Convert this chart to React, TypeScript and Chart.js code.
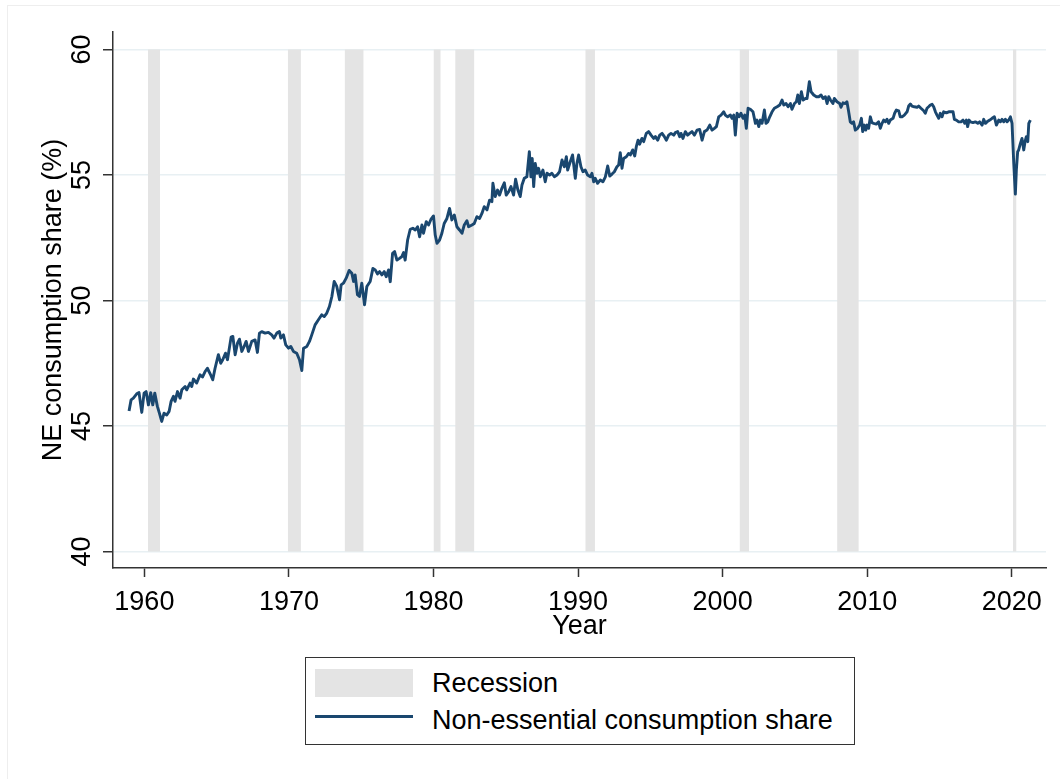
import React, { useEffect, useRef } from 'react';
import { Chart, registerables } from 'chart.js';

Chart.register(...registerables);

// Monthly-ish readings of the non-essential consumption share (%)
const years = [
  1958.94, 1959.08, 1959.24, 1959.47, 1959.63, 1959.82, 1959.98, 1960.12, 1960.28, 1960.44,
  1960.58, 1960.72, 1960.9, 1961.04, 1961.2, 1961.36, 1961.55, 1961.71, 1961.85, 1962.01,
  1962.12, 1962.29, 1962.47, 1962.59, 1962.82, 1962.93, 1963.16, 1963.28, 1963.39, 1963.62,
  1963.85, 1964.02, 1964.2, 1964.36, 1964.55, 1964.73, 1964.89, 1965.12, 1965.28, 1965.42,
  1965.61, 1965.75, 1966.0, 1966.12, 1966.28, 1966.44, 1966.58, 1966.74, 1966.9, 1967.04,
  1967.2, 1967.43, 1967.66, 1967.82, 1967.96, 1968.12, 1968.35, 1968.58, 1968.81, 1968.97,
  1969.16, 1969.34, 1969.44, 1969.62, 1969.78, 1969.97, 1970.13, 1970.31, 1970.54, 1970.73,
  1970.89, 1971.01, 1971.24, 1971.42, 1971.58, 1971.81, 1972.04, 1972.27, 1972.44, 1972.62,
  1972.8, 1972.97, 1973.13, 1973.31, 1973.5, 1973.61, 1973.77, 1973.96, 1974.17, 1974.35,
  1974.47, 1974.58, 1974.74, 1974.88, 1975.04, 1975.23, 1975.39, 1975.62,
  1975.81, 1975.97, 1976.13, 1976.27, 1976.43, 1976.59, 1976.73, 1976.89, 1977.01, 1977.17,
  1977.31, 1977.47, 1977.65, 1977.81, 1977.93, 1978.04, 1978.21, 1978.39, 1978.57, 1978.74,
  1978.9, 1979.04, 1979.2, 1979.31, 1979.5, 1979.66, 1979.82, 1980.0, 1980.12, 1980.24,
  1980.42, 1980.58, 1980.74, 1980.93, 1981.11, 1981.27, 1981.44, 1981.62, 1981.8, 1981.97,
  1982.13, 1982.31, 1982.43, 1982.66, 1982.82, 1983.0, 1983.19, 1983.35, 1983.51, 1983.7,
  1983.88, 1984.04, 1984.11, 1984.27, 1984.43, 1984.57, 1984.73, 1984.9, 1985.03, 1985.2,
  1985.36, 1985.54, 1985.68, 1985.84, 1986.0, 1986.12, 1986.28, 1986.46, 1986.63, 1986.74,
  1986.83, 1986.93, 1987.04, 1987.16, 1987.27, 1987.39, 1987.57, 1987.73, 1987.85, 1988.03,
  1988.19, 1988.36, 1988.54, 1988.72, 1988.89, 1989.05, 1989.19, 1989.28, 1989.46, 1989.62,
  1989.81, 1989.92, 1990.04, 1990.2, 1990.34, 1990.5, 1990.66, 1990.85, 1990.96, 1991.08,
  1991.19, 1991.35, 1991.54,
  1991.72, 1991.89, 1992.05, 1992.19, 1992.35, 1992.51, 1992.69, 1992.81, 1992.92, 1993.04,
  1993.15, 1993.34, 1993.5, 1993.62, 1993.78, 1993.92, 1994.03, 1994.15, 1994.26, 1994.42,
  1994.54, 1994.72, 1994.88, 1995.05, 1995.23, 1995.35, 1995.51, 1995.65, 1995.81, 1995.97,
  1996.11, 1996.27, 1996.43, 1996.62, 1996.73, 1996.89, 1997.03, 1997.12, 1997.26, 1997.42,
  1997.58, 1997.72, 1997.88, 1998.05, 1998.23, 1998.41, 1998.58, 1998.74, 1998.92, 1999.11,
  1999.27, 1999.43, 1999.57, 1999.73, 1999.89, 2000.08, 2000.19, 2000.35, 2000.54, 2000.65,
  2000.77, 2000.88, 2001.0, 2001.14, 2001.27, 2001.41, 2001.53, 2001.64, 2001.76, 2001.92,
  2002.1, 2002.27, 2002.38, 2002.5, 2002.61, 2002.73, 2002.89, 2003.0, 2003.12, 2003.26,
  2003.42, 2003.58, 2003.77, 2003.95, 2004.11, 2004.23, 2004.39, 2004.53, 2004.69, 2004.8,
  2004.97, 2005.1, 2005.2, 2005.31, 2005.45, 2005.57, 2005.73, 2005.84, 2006.0, 2006.12,
  2006.3, 2006.49, 2006.65, 2006.81, 2006.95, 2007.11, 2007.23, 2007.34, 2007.46,
  2007.63, 2007.73, 2007.91, 2008.1, 2008.19, 2008.33, 2008.49, 2008.6, 2008.72, 2008.83,
  2008.95, 2009.06, 2009.18, 2009.34, 2009.48, 2009.6, 2009.69, 2009.8, 2009.9, 2009.99,
  2010.1, 2010.22, 2010.33, 2010.45, 2010.63, 2010.79, 2010.91, 2011.03, 2011.14, 2011.26,
  2011.37, 2011.49, 2011.6, 2011.79, 2011.9, 2012.02, 2012.18, 2012.29, 2012.41, 2012.57,
  2012.76, 2012.87, 2012.99, 2013.1, 2013.26, 2013.45, 2013.56, 2013.72, 2013.91, 2014.02,
  2014.14, 2014.25, 2014.37, 2014.49, 2014.6, 2014.72, 2014.83, 2014.95, 2015.06, 2015.18,
  2015.29, 2015.48, 2015.64, 2015.8, 2015.94, 2016.03, 2016.17, 2016.33, 2016.49, 2016.63,
  2016.75, 2016.86, 2016.95, 2017.05, 2017.14, 2017.32, 2017.48, 2017.65, 2017.78, 2017.95,
  2018.06, 2018.18, 2018.29, 2018.48, 2018.64, 2018.8, 2018.94, 2019.1, 2019.21, 2019.33,
  2019.45, 2019.56, 2019.68, 2019.79, 2019.91, 2020.02, 2020.14, 2020.25, 2020.32, 2020.41,
  2020.48, 2020.6, 2020.71, 2020.83, 2020.92, 2021.01, 2021.11, 2021.18, 2021.29,
];

const shares = [
  45.6, 46.04, 46.11, 46.28, 46.33, 45.54, 46.31, 46.37, 45.84, 46.33,
  45.84, 46.31, 45.78, 45.51, 45.18, 45.51, 45.44, 45.58, 45.98, 46.18,
  45.98, 46.37, 46.11, 46.44, 46.57, 46.44, 46.71, 46.57, 46.87, 46.71,
  47.04, 46.95, 47.17, 47.3, 47.08, 46.84, 47.3, 47.84, 47.5, 47.64,
  47.9, 47.64, 48.54, 48.57, 47.84, 48.3, 48.46, 47.97, 48.17, 48.37,
  47.97, 48.37, 48.43, 47.93, 48.7, 48.76, 48.7, 48.73, 48.63, 48.5,
  48.7, 48.76, 48.5, 48.63, 48.23, 48.1, 48.17, 47.97, 47.9, 47.64,
  47.21, 48.1, 48.17, 48.37, 48.63, 49.03, 49.23, 49.43, 49.36, 49.5,
  49.76, 50.16, 50.76, 50.56, 50.03, 50.62, 50.69, 50.89, 51.2, 51.09,
  50.76, 51.02, 50.23, 50.16, 50.69, 49.83, 50.56, 50.76,
  51.28, 51.22, 51.06, 51.15, 51.02, 51.15, 50.95, 51.22, 50.75, 51.88,
  51.95, 51.61, 51.68, 51.75, 51.91, 51.61, 52.41, 52.84, 52.88, 52.81,
  52.94, 52.54, 53.01, 52.68, 53.14, 53.01, 53.23, 53.37, 52.61, 52.28,
  52.41, 52.68, 53.07, 53.27, 53.67, 53.21, 53.41, 52.94, 52.81, 52.68,
  53.01, 53.18, 52.94, 53.01, 53.07, 53.34, 53.27, 53.47, 53.74, 53.61,
  54.0, 53.94, 54.67, 54.14, 54.4, 54.2, 54.47, 54.69, 54.2, 54.34,
  54.54, 54.2, 54.83, 54.4, 54.14, 54.6, 54.87, 54.93, 55.93, 54.93,
  55.66, 54.54, 55.46, 55.07, 55.27, 54.93, 55.2, 54.73, 55.07, 55.0,
  55.07, 54.93, 55.0, 55.13, 55.6, 55.33, 55.73, 55.2, 55.53, 55.8,
  54.87, 55.46, 55.8, 55.33, 55.13, 55.2, 55.0, 54.93, 55.07, 54.73,
  54.87, 54.67, 54.8,
  54.73, 54.93, 55.36, 54.96, 55.04, 55.13, 55.33, 55.4, 55.89, 55.27,
  55.66, 55.73, 55.86, 55.8, 56.0, 55.76, 56.13, 56.39, 56.23, 56.46,
  56.33, 56.66, 56.73, 56.59, 56.46, 56.53, 56.39, 56.59, 56.66, 56.53,
  56.39, 56.59, 56.66, 56.59, 56.69, 56.73, 56.53, 56.66, 56.46, 56.73,
  56.59, 56.66, 56.73, 56.59, 56.79, 56.82, 56.39, 56.73, 56.79, 56.99,
  56.79, 56.86, 56.93, 57.32, 57.39, 57.52, 57.39, 57.32, 57.39, 57.26,
  57.39, 56.59, 57.46, 57.32, 57.46, 57.26, 57.39, 56.86, 57.66, 57.62,
  57.52, 57.06, 57.19, 56.93, 57.19, 57.06, 57.59, 57.06, 57.12, 57.32,
  57.52, 57.66, 57.72, 57.79, 57.99, 57.79, 57.85, 57.72, 57.85, 57.62,
  57.85, 57.92, 58.19, 57.85, 58.32, 57.99, 58.05, 58.05, 58.72, 58.32,
  58.19, 58.12, 58.12, 58.19, 58.05, 58.12, 57.85, 58.12, 57.99,
  57.85, 58.05, 57.92, 57.85, 57.7, 57.88, 57.85, 57.92, 57.52, 57.12,
  57.06, 57.12, 56.79, 56.86, 56.99, 57.26, 56.73, 56.99, 56.79, 56.99,
  56.86, 57.32, 57.09, 57.06, 57.03, 57.12, 56.86, 57.06, 57.19, 57.12,
  57.22, 57.06, 57.19, 57.26, 57.46, 57.59, 57.56, 57.32, 57.32, 57.39,
  57.52, 57.75, 57.83, 57.75, 57.72, 57.7, 57.75, 57.66, 57.56, 57.46,
  57.66, 57.72, 57.79, 57.82, 57.72, 57.52, 57.39, 57.26, 57.46, 57.32,
  57.52, 57.48, 57.52, 57.52, 57.52, 57.22, 57.19, 57.12, 57.12, 57.19,
  57.06, 57.19, 56.93, 57.19, 57.12, 57.09, 57.12, 57.06, 57.12, 56.99,
  57.22, 57.06, 57.12, 57.19, 57.26, 57.32, 56.99, 57.19, 57.12, 57.22,
  57.12, 57.22, 57.12, 57.19, 57.32, 57.06, 55.46, 54.24, 55.2, 55.93,
  56.0, 56.26, 56.46, 56.0, 56.33, 56.53, 56.33, 57.06, 57.19,
];

// NBER recessions (decimal years)
const recessionStart = [1960.25, 1969.92, 1973.85, 1980.0, 1981.5, 1990.5, 2001.17, 2007.92, 2020.08];
const recessionEnd = [1961.08, 1970.83, 1975.17, 1980.5, 1982.83, 1991.17, 2001.83, 2009.42, 2020.33];

const yTicks = [40, 45, 50, 55, 60];
const xTickStep = 10;

const FONT = '"Liberation Sans", Arial, Helvetica, sans-serif';
const NAVY = '#1a476f';
const SHADE = '#e4e4e4';
const GRID = '#e8f0f3';
const AXIS = '#333333';

const yLabelPlugin = {
  id: 'yRotatedLabels',
  afterDraw(chart: any) {
    const ys = chart.scales.y;
    const ctx = chart.ctx;
    ctx.save();
    ctx.fillStyle = '#000';
    ctx.font = `27px ${FONT}`;
    ctx.textAlign = 'center';
    ctx.textBaseline = 'middle';
    yTicks.forEach((v) => {
      const py = ys.getPixelForValue(v);
      ctx.save();
      ctx.translate(ys.right - 30.5, py);
      ctx.rotate(-Math.PI / 2);
      ctx.fillText(String(v), 0, 0);
      ctx.restore();
    });
    ctx.restore();
  },
};

export default function App() {
  const canvasRef = useRef<HTMLCanvasElement | null>(null);

  useEffect(() => {
    if (!canvasRef.current) return;
    const recessionSets = recessionStart.map((s, i) => ({
      type: 'line' as const,
      data: [
        { x: s, y: 60 },
        { x: recessionEnd[i], y: 60 },
      ],
      borderWidth: 0,
      borderColor: 'rgba(0,0,0,0)',
      backgroundColor: SHADE,
      pointRadius: 0,
      fill: { value: 40 },
      tension: 0,
      order: 2,
    }));
    const mainSet = {
      type: 'line' as const,
      data: years.map((x, i) => ({ x, y: shares[i] })),
      borderColor: NAVY,
      borderWidth: 2.9,
      pointRadius: 0,
      fill: false,
      tension: 0,
      borderJoinStyle: 'round' as const,
      order: 1,
    };
    const chart = new Chart(canvasRef.current, {
      type: 'line',
      data: { datasets: [mainSet, ...recessionSets] as any },
      options: {
        animation: false,
        responsive: false,
        maintainAspectRatio: false,
        parsing: false as any,
        layout: { padding: { left: 0, right: 14, top: 32, bottom: 131 } },
        plugins: {
          legend: { display: false },
          tooltip: { enabled: false },
          filler: { drawTime: 'beforeDatasetsDraw' } as any,
        },
        scales: {
          x: {
            type: 'linear',
            min: 1957.83,
            max: 2022.37,
            afterFit: (s: any) => {
              s.height = 80;
            },
            border: { display: true, color: AXIS, width: 1.5 },
            grid: {
              display: true,
              drawOnChartArea: false,
              drawTicks: true,
              tickLength: 9,
              tickColor: AXIS,
              tickWidth: 1.5,
            },
            ticks: {
              stepSize: xTickStep,
              includeBounds: false,
              maxRotation: 0,
              minRotation: 0,
              padding: 9,
              color: '#000',
              font: { family: FONT, size: 27 },
              callback: (v: any) => String(v),
            },
            title: {
              display: true,
              text: 'Year',
              color: '#000',
              font: { family: FONT, size: 27 },
              padding: { top: 0, bottom: 5 },
            },
          },
          y: {
            type: 'linear',
            min: 39.34,
            max: 60.7,
            afterFit: (s: any) => {
              s.width = 113;
            },
            border: { display: true, color: AXIS, width: 1.5 },
            grid: {
              display: true,
              drawOnChartArea: true,
              color: GRID,
              lineWidth: 1.5,
              drawTicks: true,
              tickLength: 10,
              tickColor: AXIS,
              tickWidth: 1.5,
            },
            ticks: {
              stepSize: 5,
              includeBounds: false,
              display: false,
            },
            title: {
              display: true,
              text: 'NE consumption share (%)',
              color: '#000',
              font: { family: FONT, size: 27 },
              padding: { top: 37, bottom: 0 },
            },
          },
        },
      },
      plugins: [yLabelPlugin],
    });
    return () => chart.destroy();
  }, []);

  return (
    <div
      style={{
        position: 'absolute',
        left: 0,
        top: 0,
        width: 1060,
        height: 779,
        background: '#fff',
        overflow: 'hidden',
      }}
    >
      <div
        style={{
          position: 'absolute',
          left: 7,
          top: 5,
          width: 1100,
          height: 800,
          borderLeft: '1px solid #eeeeee',
          borderTop: '1px solid #eeeeee',
        }}
      />
      <canvas ref={canvasRef} width={1060} height={779} style={{ position: 'absolute', left: 0, top: 0 }} />
      <div
        style={{
          position: 'absolute',
          left: 305,
          top: 657,
          width: 548,
          height: 86,
          border: `1.5px solid ${AXIS}`,
          fontFamily: FONT,
          fontSize: 27,
          color: '#000',
          background: '#fff',
        }}
      >
        <div style={{ position: 'absolute', left: 9, top: 11, width: 98, height: 28, background: SHADE }} />
        <div style={{ position: 'absolute', left: 126, top: 9, lineHeight: '32px', whiteSpace: 'nowrap' }}>
          Recession
        </div>
        <div style={{ position: 'absolute', left: 9, top: 57, width: 98, height: 2.6, background: NAVY }} />
        <div style={{ position: 'absolute', left: 126, top: 46, lineHeight: '32px', whiteSpace: 'nowrap' }}>
          Non-essential consumption share
        </div>
      </div>
    </div>
  );
}
